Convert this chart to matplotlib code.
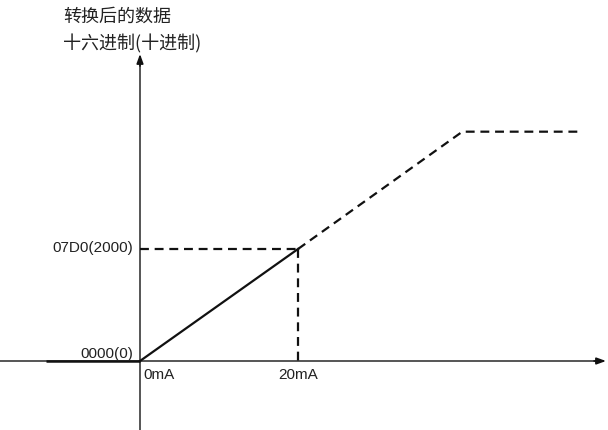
import matplotlib
matplotlib.use("Agg")
import matplotlib.pyplot as plt

# data (mA in, converted value out)
solid_ma = [0, 20]
solid_val = [0, 2000]
ext_ma = [20, 40.8, 55.7]
ext_val = [2000, 4095, 4095]
below_ma = [-11.9, 0]
below_val = [0, 0]
ref_ma = 20
ref_val = 2000
y_labels = ["07D0(2000)", "0000(0)"]
y_label_vals = [2000, 0]
x_labels = ["0mA", "20mA"]
x_label_vals = [0, 20]

plt.rcParams["font.family"] = ["Noto Sans CJK SC", "DejaVu Sans"]

fig = plt.figure(figsize=(6.08, 4.31), dpi=100)
ax = fig.add_axes([0, 0, 1, 1])
ax.set_axis_off()

# pixel mapping: origin at (140, 362), 7.9 px/mA, 0.056 px/unit
px_x, px_y = 7.9, 0.056
x0, x1 = -140 / px_x, (608 - 140) / px_x
y0, y1 = -(431 - 362) / px_y, 362 / px_y
ax.set_xlim(x0, x1)
ax.set_ylim(y0, y1)

axis_col = "#555555"
x_tip = (606 - 140) / px_x
y_tip = (362 - 55) / px_y
ax.plot([x0, x_tip - 6 / px_x], [0, 0], color=axis_col, lw=1.4)
ax.plot([0, 0], [y0, y_tip - 6 / px_y], color=axis_col, lw=1.4)
head = dict(arrowstyle="-|>,head_length=0.55,head_width=0.2", color="#111111", lw=1.2,
            shrinkA=0, shrinkB=0)
ax.annotate("", xy=(x_tip, 0), xytext=(x_tip - 12 / px_x, 0), arrowprops=head)
ax.annotate("", xy=(0, y_tip), xytext=(0, y_tip - 12 / px_y), arrowprops=head)

ax.plot(below_ma, below_val, color="#111111", lw=1.8, solid_capstyle="butt")
ax.plot(solid_ma, solid_val, color="#111111", lw=1.6)
ax.plot(ext_ma, ext_val, color="#111111", lw=1.6, dashes=(4, 2.6))
ax.plot([0, ref_ma], [ref_val, ref_val], color="#111111", lw=1.6, dashes=(4, 2.6))
ax.plot([ref_ma, ref_ma], [ref_val, 0], color="#111111", lw=1.6, dashes=(4, 2.6))

lab = dict(fontsize=11, color="#222222", family=["Liberation Sans", "DejaVu Sans"])
for t, v, dy in zip(y_labels, y_label_vals, (2, 8)):
    ax.text(-7 / px_x, v + dy / px_y, t, ha="right", va="center", **lab)
for t, v in zip(x_labels, x_label_vals):
    ax.text(v + 3 / px_x if v == 0 else v, -13 / px_y, t,
            ha="left" if v == 0 else "center", va="center", **lab)

ax.text(-77 / px_x, (362 - 17) / px_y, "转换后的数据", ha="left", va="center",
        fontsize=13, color="#222222")
ax.text(-77 / px_x, (362 - 44) / px_y, "十六进制(十进制)", ha="left", va="center",
        fontsize=13, color="#222222")

fig.savefig("out.png", dpi=100)
